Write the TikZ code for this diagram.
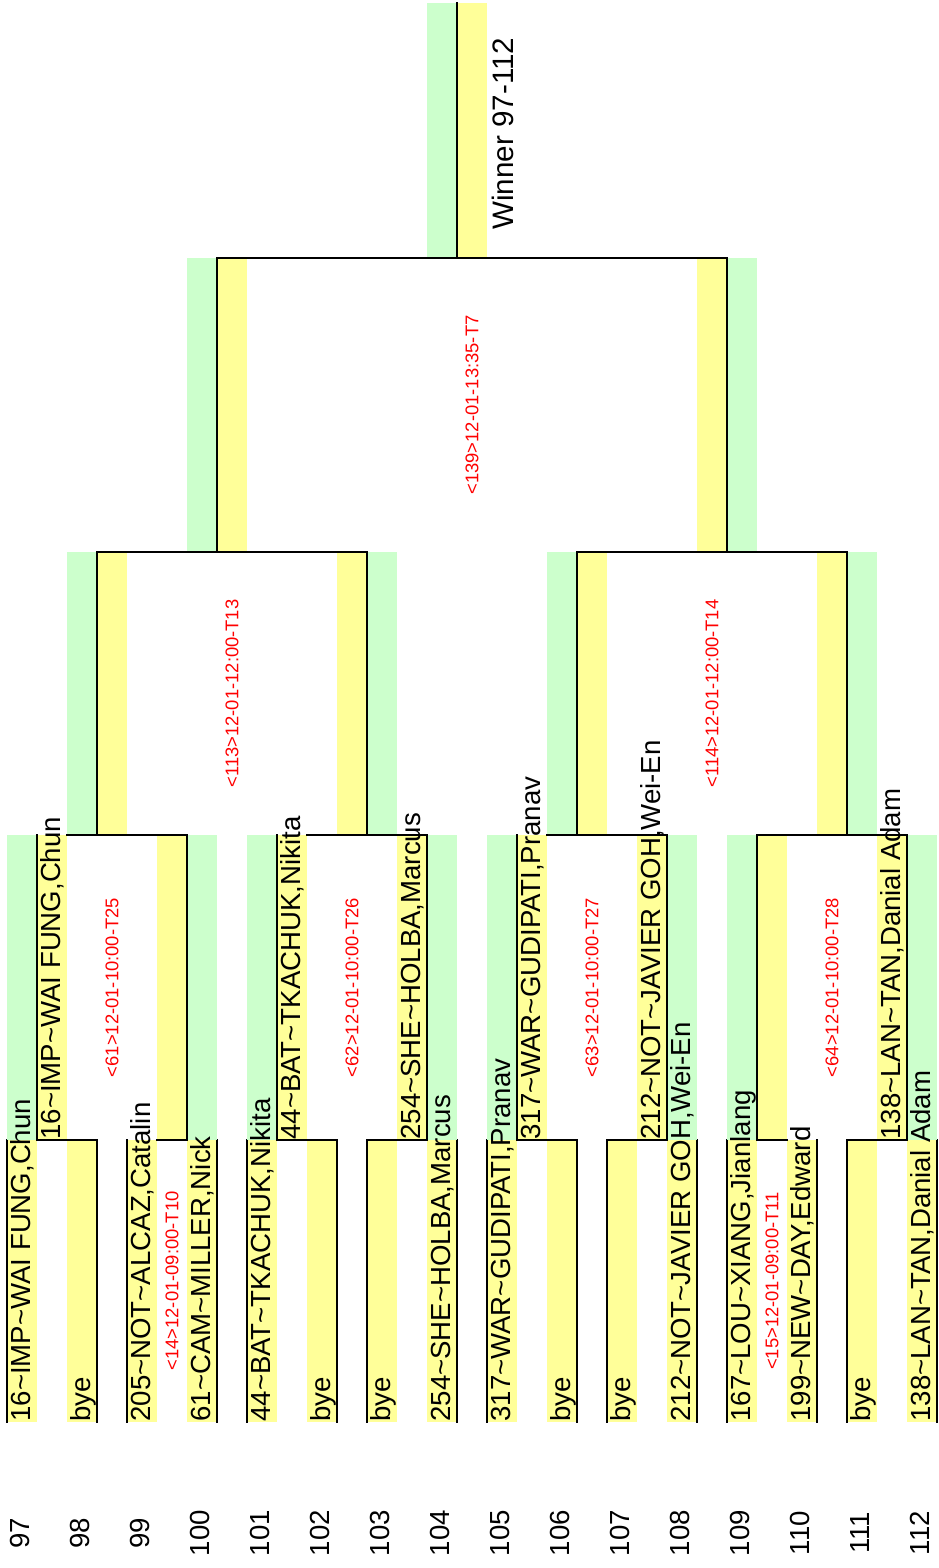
\documentclass[tikz,border=0pt]{standalone}
\usepackage{fontspec}
\setmainfont{Liberation Sans}
\usetikzlibrary{calc}

\definecolor{winYellow}{RGB}{255,255,153}
\definecolor{winGreen}{RGB}{204,255,204}
\newcommand{\tld}{\textasciitilde}

\tikzset{
	bracket/.style = {line width = 1.4pt, line cap = rect},
	player/.style = {rotate = 90, anchor = base west, inner sep = 0pt, font = \fontsize{13.8}{13.8}\selectfont},
	matchinfo/.style = {rotate = 90, inner sep = 0pt, text = red, font = \fontsize{9.2}{9.2}\selectfont},
	rowno/.style = {rotate = 90, inner sep = 0pt, font = \fontsize{13.8}{13.8}\selectfont},
}

% first round line: yellow band on the right or on the left
\newcommand{\leafUp}[2]{%
	\fill [winYellow] (#2,\yOne) rectangle ({#2 + \band},\yBase);
	\draw [bracket] (#2,\yOne) coordinate (#1-top) -- (#2,\yBase) coordinate (#1-bot);
}
\newcommand{\leafDown}[2]{%
	\fill [winYellow] ({#2 - \band},\yOne) rectangle (#2,\yBase);
	\draw [bracket] (#2,\yOne) coordinate (#1-top) -- (#2,\yBase) coordinate (#1-bot);
}
% later rounds: green outside, yellow inside
\newcommand{\slotUp}[4]{%
	\fill [winGreen] ({#2 - \band},#3) rectangle (#2,#4);
	\fill [winYellow] (#2,#3) rectangle ({#2 + \band},#4);
	\draw [bracket] (#2,#3) coordinate (#1-top) -- (#2,#4) coordinate (#1-bot);
}
\newcommand{\slotDown}[4]{%
	\fill [winYellow] ({#2 - \band},#3) rectangle (#2,#4);
	\fill [winGreen] (#2,#3) rectangle ({#2 + \band},#4);
	\draw [bracket] (#2,#3) coordinate (#1-top) -- (#2,#4) coordinate (#1-bot);
}

\begin{document}
\begin{tikzpicture}[x = 0.5pt, y = -0.5pt]
	\useasboundingbox (0,0) rectangle (938,1568);

	% levels of the rounds (page pixels, counted downwards)
	\def \yWin {3};
	\def \yFour {258};
	\def \yThree {552};
	\def \yTwo {835};
	\def \yOne {1140};
	\def \yBase {1422};
	\def \band {30};

	% round 1
	\leafUp{p97}{7}     \leafDown{p98}{97}
	\leafUp{p99}{127}   \leafDown{p100}{217}
	\leafUp{p101}{247}  \leafDown{p102}{337}
	\leafUp{p103}{367}  \leafDown{p104}{457}
	\leafUp{p105}{487}  \leafDown{p106}{577}
	\leafUp{p107}{607}  \leafDown{p108}{697}
	\leafUp{p109}{727}  \leafDown{p110}{817}
	\leafUp{p111}{847}  \leafDown{p112}{937}

	% round 2
	\slotUp{q1}{37}{\yTwo}{\yOne}    \slotDown{q2}{187}{\yTwo}{\yOne}
	\slotUp{q3}{277}{\yTwo}{\yOne}   \slotDown{q4}{427}{\yTwo}{\yOne}
	\slotUp{q5}{517}{\yTwo}{\yOne}   \slotDown{q6}{667}{\yTwo}{\yOne}
	\slotUp{q7}{757}{\yTwo}{\yOne}   \slotDown{q8}{907}{\yTwo}{\yOne}

	% round 3, round 4 and the winner
	\slotUp{s1}{97}{\yThree}{\yTwo}   \slotDown{s2}{367}{\yThree}{\yTwo}
	\slotUp{s3}{577}{\yThree}{\yTwo}  \slotDown{s4}{847}{\yThree}{\yTwo}
	\slotUp{f1}{217}{\yFour}{\yThree} \slotDown{f2}{727}{\yFour}{\yThree}
	\slotUp{w}{457}{\yWin}{\yFour}

	% joins round 1 -> round 2
	\draw [bracket] (q1-bot) -- (p98-top);
	\draw [bracket] ($(p99-top) + (\band,0)$) -- (q2-bot);
	\draw [bracket] (q3-bot) -- (p102-top);
	\draw [bracket] (p103-top) -- (q4-bot);
	\draw [bracket] (q5-bot) -- (p106-top);
	\draw [bracket] (p107-top) -- (q6-bot);
	\draw [bracket] (q7-bot) -- ($(p110-top) - (\band,0)$);
	\draw [bracket] (p111-top) -- (q8-bot);
	% joins round 2 -> round 3
	\draw [bracket] ($(q1-top) + (\band,0)$) -- (q2-top);
	\draw [bracket] ($(q3-top) + (\band,0)$) -- (q4-top);
	\draw [bracket] ($(q5-top) + (\band,0)$) -- (q6-top);
	\draw [bracket] (q7-top) -- (q8-top);
	% joins round 3 -> round 4 -> winner
	\draw [bracket] (s1-top) -- (s2-top);
	\draw [bracket] (s3-top) -- (s4-top);
	\draw [bracket] (f1-top) -- (f2-top);

	% players, round 1
	\node [player] (n97) at ($(p97-bot) + (23.5,0)$) {16\tld IMP\tld WAI FUNG,Chun};
	\node [player] (n98) at ($(p98-bot) + (-6.5,0)$) {bye};
	\node [player] (n99) at ($(p99-bot) + (23.5,0)$) {205\tld NOT\tld ALCAZ,Catalin};
	\node [player] (n100) at ($(p100-bot) + (-6.5,0)$) {61\tld CAM\tld MILLER,Nick};
	\node [player] (n101) at ($(p101-bot) + (23.5,0)$) {44\tld BAT\tld TKACHUK,Nikita};
	\node [player] (n102) at ($(p102-bot) + (-6.5,0)$) {bye};
	\node [player] (n103) at ($(p103-bot) + (23.5,0)$) {bye};
	\node [player] (n104) at ($(p104-bot) + (-6.5,0)$) {254\tld SHE\tld HOLBA,Marcus};
	\node [player] (n105) at ($(p105-bot) + (23.5,0)$) {317\tld WAR\tld GUDIPATI,Pranav};
	\node [player] (n106) at ($(p106-bot) + (-6.5,0)$) {bye};
	\node [player] (n107) at ($(p107-bot) + (23.5,0)$) {bye};
	\node [player] (n108) at ($(p108-bot) + (-6.5,0)$) {212\tld NOT\tld JAVIER GOH,Wei-En};
	\node [player] (n109) at ($(p109-bot) + (23.5,0)$) {167\tld LOU\tld XIANG,Jianlang};
	\node [player] (n110) at ($(p110-bot) + (-6.5,0)$) {199\tld NEW\tld DAY,Edward};
	\node [player] (n111) at ($(p111-bot) + (23.5,0)$) {bye};
	\node [player] (n112) at ($(p112-bot) + (-6.5,0)$) {138\tld LAN\tld TAN,Danial Adam};

	% players, round 2
	\node [player] (m1) at ($(q1-bot) + (23.5,0)$) {16\tld IMP\tld WAI FUNG,Chun};
	\node [player] (m3) at ($(q3-bot) + (23.5,0)$) {44\tld BAT\tld TKACHUK,Nikita};
	\node [player] (m4) at ($(q4-bot) + (-6.5,0)$) {254\tld SHE\tld HOLBA,Marcus};
	\node [player] (m5) at ($(q5-bot) + (23.5,0)$) {317\tld WAR\tld GUDIPATI,Pranav};
	\node [player] (m6) at ($(q6-bot) + (-6.5,0)$) {212\tld NOT\tld JAVIER GOH,Wei-En};
	\node [player] (m8) at ($(q8-bot) + (-6.5,0)$) {138\tld LAN\tld TAN,Danial Adam};

	% winner
	\node [player, font = \fontsize{14.8}{14.8}\selectfont] (champ) at ($(w-bot) + (56,-28)$) {Winner 97-112};

	% match times
	\node [matchinfo] (t14) at ($(p99-top)!0.5!(p100-bot)$) {<14>12-01-09:00-T10};
	\node [matchinfo] (t15) at ($(p109-top)!0.5!(p110-bot)$) {<15>12-01-09:00-T11};
	\node [matchinfo] (t61) at ($(q1-top)!0.5!(q2-bot)$) {<61>12-01-10:00-T25};
	\node [matchinfo] (t62) at ($(q3-top)!0.5!(q4-bot)$) {<62>12-01-10:00-T26};
	\node [matchinfo] (t63) at ($(q5-top)!0.5!(q6-bot)$) {<63>12-01-10:00-T27};
	\node [matchinfo] (t64) at ($(q7-top)!0.5!(q8-bot)$) {<64>12-01-10:00-T28};
	\node [matchinfo] (t113) at ($(s1-top)!0.5!(s2-bot)$) {<113>12-01-12:00-T13};
	\node [matchinfo] (t114) at ($(s3-top)!0.5!(s4-bot)$) {<114>12-01-12:00-T14};
	\node [matchinfo] (t139) at ($(f1-top)!0.5!(f2-bot)$) {<139>12-01-13:35-T7};

	% line numbers
	\foreach \i in {0,...,15} {
		\pgfmathtruncatemacro{\num}{97 + \i}
		\node [rowno] (row\num) at ({20 + 60*\i}, 1533) {\num};
	}

\end{tikzpicture}
\end{document}
